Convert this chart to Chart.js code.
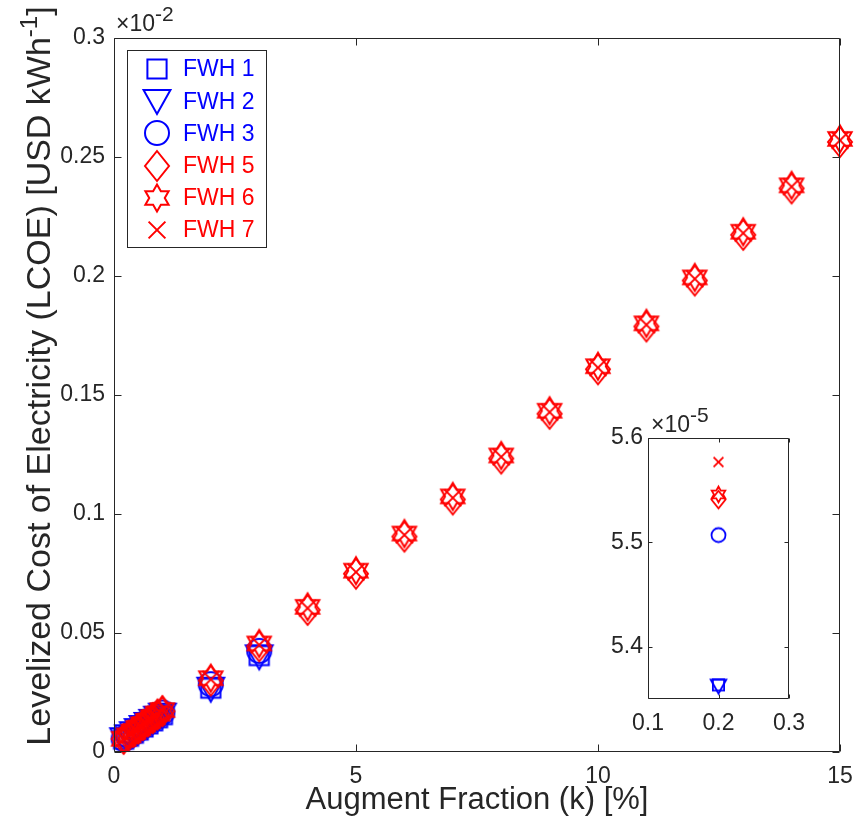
<!DOCTYPE html>
<html>
<head>
<meta charset="utf-8">
<script src="https://cdn.jsdelivr.net/npm/chart.js@4.4.1/dist/chart.umd.min.js"></script>
<style>
  html, body { margin: 0; padding: 0; background: #fff; }
  #wrap { position: relative; width: 856px; height: 835px; }
  #wrap canvas { position: absolute; left: 0; top: 0; }
</style>
</head>
<body>
<div id="wrap">
  <canvas id="main" width="856" height="835"></canvas>
  <canvas id="inset" width="856" height="835"></canvas>
</div>
<script>
// augment fraction k [%]
const kBlue = [0.2, 0.3, 0.4, 0.5, 0.6, 0.7, 0.8, 0.9, 1, 2, 3];
const kRed = [0.2, 0.3, 0.4, 0.5, 0.6, 0.7, 0.8, 0.9, 1, 2, 3, 4, 5, 6, 7, 8, 9, 10, 11, 12, 13, 14, 15];

// LCOE in units of 1e-2 USD/kWh
const fwh1 = [0.00536, 0.0066, 0.0079, 0.0092, 0.0105, 0.0118, 0.0131, 0.0144, 0.0157, 0.0268, 0.0405];
const fwh2 = [0.00536, 0.0066, 0.0079, 0.0092, 0.0105, 0.0118, 0.0131, 0.0144, 0.0157, 0.0266, 0.0402];
const fwh3 = [0.00551, 0.0068, 0.0082, 0.0096, 0.0110, 0.0124, 0.0138, 0.0152, 0.0166, 0.0285, 0.0425];
const fwh5 = [0.00554, 0.0069, 0.0084, 0.0098, 0.0113, 0.0128, 0.0142, 0.0157, 0.0171, 0.0300, 0.0444,
              0.0597, 0.0749, 0.0905, 0.1061, 0.1233, 0.1421, 0.1608, 0.1788, 0.1981, 0.2173, 0.2368, 0.2563];
const fwh6 = [0.00555, 0.0070, 0.0085, 0.0100, 0.0116, 0.0131, 0.0146, 0.0161, 0.0176, 0.0310, 0.0456,
              0.0610, 0.0762, 0.0918, 0.1074, 0.1246, 0.1434, 0.1621, 0.1801, 0.1994, 0.2186, 0.2381, 0.2576];
const fwh7 = [0.00558, 0.0070, 0.0085, 0.0100, 0.0115, 0.0130, 0.0145, 0.0160, 0.0174, 0.0305, 0.0450,
              0.0604, 0.0756, 0.0912, 0.1068, 0.1240, 0.1428, 0.1615, 0.1795, 0.1988, 0.2180, 0.2375, 0.2570];

const xTicks = [0, 5, 10, 15];
const xTickLabels = ['0', '5', '10', '15'];
const yTicks = [0, 0.05, 0.1, 0.15, 0.2, 0.25, 0.3];
const yTickLabels = ['0', '0.05', '0.1', '0.15', '0.2', '0.25', '0.3'];

// inset, LCOE in units of 1e-5
const insetK = [0.2];
const inset1 = [5.3635];
const inset2 = [5.3625];
const inset3 = [5.507];
const inset5 = [5.541];
const inset6 = [5.546];
const inset7 = [5.577];
const insetXTicks = [0.1, 0.2, 0.3];
const insetXTickLabels = ['0.1', '0.2', '0.3'];
const insetYTicks = [5.4, 5.5, 5.6];
const insetYTickLabels = ['5.4', '5.5', '5.6'];

const BLUE = '#0000ff', RED = '#ff0000', INK = '#262626';
const FONT = '"Liberation Sans", Arial, sans-serif';
Chart.defaults.font.family = FONT;
Chart.defaults.color = INK;

// matlab-like marker images
function marker(shape, size, lw, color) {
  const pad = Math.ceil(lw) + 2;
  const w = Math.ceil(size * 1.3) + pad * 2;
  const c = document.createElement('canvas');
  c.width = c.height = w;
  const g = c.getContext('2d');
  g.translate(w / 2, w / 2);
  g.strokeStyle = color;
  g.lineWidth = lw;
  g.beginPath();
  if (shape === 'square') {
    const s = size * 0.4;
    g.rect(-s, -s, 2 * s, 2 * s);
  } else if (shape === 'tri') {
    g.moveTo(-size * 0.56, -size * 0.46);
    g.lineTo(size * 0.56, -size * 0.46);
    g.lineTo(0, size * 0.54);
    g.closePath();
  } else if (shape === 'circle') {
    g.arc(0, 0, size / 2, 0, Math.PI * 2);
  } else if (shape === 'diamond') {
    g.moveTo(0, -size * 0.625);
    g.lineTo(size * 0.5, 0);
    g.lineTo(0, size * 0.625);
    g.lineTo(-size * 0.5, 0);
    g.closePath();
  } else if (shape === 'hex') {
    const R = size * 0.56, r = R / Math.sqrt(3);
    for (let i = 0; i < 12; i++) {
      const a = -Math.PI / 2 + i * Math.PI / 6;
      const rr = i % 2 ? r : R;
      i ? g.lineTo(rr * Math.cos(a), rr * Math.sin(a)) : g.moveTo(rr * Math.cos(a), rr * Math.sin(a));
    }
    g.closePath();
  } else {
    const s = size * 0.35;
    g.moveTo(-s, -s); g.lineTo(s, s);
    g.moveTo(s, -s); g.lineTo(-s, s);
  }
  g.stroke();
  return c;
}

const series = [
  {label: 'FWH 1', shape: 'square', color: BLUE},
  {label: 'FWH 2', shape: 'tri', color: BLUE},
  {label: 'FWH 3', shape: 'circle', color: BLUE},
  {label: 'FWH 5', shape: 'diamond', color: RED},
  {label: 'FWH 6', shape: 'hex', color: RED},
  {label: 'FWH 7', shape: 'x', color: RED}
];
const mainData = [[kBlue, fwh1], [kBlue, fwh2], [kBlue, fwh3], [kRed, fwh5], [kRed, fwh6], [kRed, fwh7]];
const insetData = [inset1, inset2, inset3, inset5, inset6, inset7];

function pts(xs, ys) { return xs.map((x, i) => ({x: x, y: ys[i]})); }

// box + inward ticks on all four sides
const framePlugin = {
  id: 'frame',
  afterDatasetsDraw(chart, args, opts) {
    const {ctx, chartArea: a, scales: {x, y}} = chart;
    const t = opts.tick;
    const L = Math.round(a.left) + 0.5, R = Math.round(a.right) - 0.5;
    const T = Math.round(a.top) + 0.5, B = Math.round(a.bottom) - 0.5;
    ctx.save();
    ctx.strokeStyle = INK;
    ctx.lineWidth = 1;
    ctx.beginPath();
    ctx.rect(L, T, R - L, B - T);
    x.ticks.forEach(tk => {
      const px = Math.round(x.getPixelForValue(tk.value)) + 0.5;
      ctx.moveTo(px, B); ctx.lineTo(px, B - t);
      ctx.moveTo(px, T); ctx.lineTo(px, T + t);
    });
    y.ticks.forEach(tk => {
      const py = Math.round(y.getPixelForValue(tk.value)) + 0.5;
      ctx.moveTo(L, py); ctx.lineTo(L + t, py);
      ctx.moveTo(R, py); ctx.lineTo(R - t, py);
    });
    ctx.stroke();
    ctx.restore();
  }
};

// "×10^n" above the y axis
function drawExp(ctx, x, y, sup) {
  ctx.save();
  ctx.fillStyle = INK;
  ctx.textBaseline = 'alphabetic';
  ctx.font = '23px ' + FONT;
  ctx.fillText('\u00d710', x, y);
  const w = ctx.measureText('\u00d710').width;
  ctx.font = '21px ' + FONT;
  ctx.fillText(sup, x + w, y - 10);
  ctx.restore();
}

const mainDeco = {
  id: 'mainDeco',
  afterDraw(chart) {
    const ctx = chart.ctx;
    drawExp(ctx, 116, 31, '-2');

    // y title with superscript
    ctx.save();
    ctx.fillStyle = INK;
    const big = '34px ' + FONT, small = '24px ' + FONT;
    const base = 'Levelized Cost of Electricity (LCOE) [USD kWh';
    ctx.font = big;
    const w1 = ctx.measureText(base).width, w3 = ctx.measureText(']').width;
    ctx.font = small;
    const w2 = ctx.measureText('-1').width;
    const total = w1 + w2 + w3;
    ctx.translate(50, 376 + total / 2);
    ctx.rotate(-Math.PI / 2);
    ctx.textBaseline = 'alphabetic';
    ctx.font = big;
    ctx.fillText(base, 0, 0);
    ctx.font = small;
    ctx.fillText('-1', w1, -13);
    ctx.font = big;
    ctx.fillText(']', w1 + w2, 0);
    ctx.restore();

    // legend box
    ctx.save();
    ctx.fillStyle = '#fff';
    ctx.fillRect(127.5, 50.5, 139, 197);
    ctx.strokeStyle = INK;
    ctx.lineWidth = 1;
    ctx.strokeRect(127.5, 50.5, 139, 197);
    ctx.font = '23px ' + FONT;
    ctx.textBaseline = 'middle';
    chart.data.datasets.forEach((ds, i) => {
      const y = 69 + i * 32.2;
      const img = ds.pointStyle;
      ctx.drawImage(img, Math.round(157 - img.width / 2), Math.round(y - img.height / 2));
      ctx.fillStyle = ds.borderColor;
      ctx.fillText(ds.label, 183, y + 1);
    });
    ctx.restore();
  }
};

function noPad(s) { s.paddingLeft = 0; s.paddingRight = 0; s.paddingTop = 0; s.paddingBottom = 0; }

new Chart(document.getElementById('main'), {
  type: 'scatter',
  data: {
    datasets: series.map((s, i) => ({
      label: s.label,
      data: pts(mainData[i][0], mainData[i][1]),
      pointStyle: marker(s.shape, 24, 2, s.color),
      pointRadius: 10,
      borderColor: s.color,
      backgroundColor: s.color,
      order: 6 - i,
      clip: false
    }))
  },
  options: {
    responsive: false,
    animation: false,
    devicePixelRatio: 1,
    events: [],
    layout: {padding: {left: 0, top: 38, right: 16, bottom: 0}},
    plugins: {legend: {display: false}, tooltip: {enabled: false}, frame: {tick: 7}},
    scales: {
      x: {
        type: 'linear', min: 0, max: 15,
        grid: {display: false, drawTicks: false}, border: {display: false},
        afterBuildTicks: s => { s.ticks = xTicks.map(v => ({value: v})); },
        afterFit: s => { s.height = 83; noPad(s); },
        ticks: {font: {size: 23}, padding: 11, maxRotation: 0, callback: (v, i) => xTickLabels[i]},
        title: {display: true, text: 'Augment Fraction (k) [%]', font: {size: 31}, padding: {top: 0, bottom: 16}}
      },
      y: {
        type: 'linear', min: 0, max: 0.3,
        grid: {display: false, drawTicks: false}, border: {display: false},
        afterBuildTicks: s => { s.ticks = yTicks.map(v => ({value: v})); },
        afterFit: s => { s.width = 114; noPad(s); },
        ticks: {font: {size: 23}, padding: 9, callback: (v, i) => yTickLabels[i]}
      }
    }
  },
  plugins: [framePlugin, mainDeco]
});

const insetDeco = {
  id: 'insetDeco',
  beforeDatasetsDraw(chart) {
    const a = chart.chartArea;
    chart.ctx.save();
    chart.ctx.fillStyle = '#fff';
    chart.ctx.fillRect(a.left, a.top, a.right - a.left, a.bottom - a.top);
    chart.ctx.restore();
  },
  afterDraw(chart) {
    drawExp(chart.ctx, 651, 432, '-5');
  }
};

new Chart(document.getElementById('inset'), {
  type: 'scatter',
  data: {
    datasets: series.map((s, i) => ({
      label: s.label,
      data: pts(insetK, insetData[i]),
      pointStyle: marker(s.shape, 14, 1.8, s.color),
      pointRadius: 6,
      borderColor: s.color,
      order: 6 - i,
      clip: false
    }))
  },
  options: {
    responsive: false,
    animation: false,
    devicePixelRatio: 1,
    events: [],
    layout: {padding: {left: 0, top: 438, right: 67, bottom: 0}},
    plugins: {legend: {display: false}, tooltip: {enabled: false}, frame: {tick: 4}},
    scales: {
      x: {
        type: 'linear', min: 0.1, max: 0.3,
        grid: {display: false, drawTicks: false}, border: {display: false},
        afterBuildTicks: s => { s.ticks = insetXTicks.map(v => ({value: v})); },
        afterFit: s => { s.height = 136; noPad(s); },
        ticks: {font: {size: 23}, padding: 11, maxRotation: 0, callback: (v, i) => insetXTickLabels[i]}
      },
      y: {
        type: 'linear', min: 5.35, max: 5.6,
        grid: {display: false, drawTicks: false}, border: {display: false},
        afterBuildTicks: s => { s.ticks = insetYTicks.map(v => ({value: v})); },
        afterFit: s => { s.width = 648; noPad(s); },
        ticks: {font: {size: 23}, padding: 5, callback: (v, i) => insetYTickLabels[i]}
      }
    }
  },
  plugins: [insetDeco, framePlugin]
});
</script>
</body>
</html>
